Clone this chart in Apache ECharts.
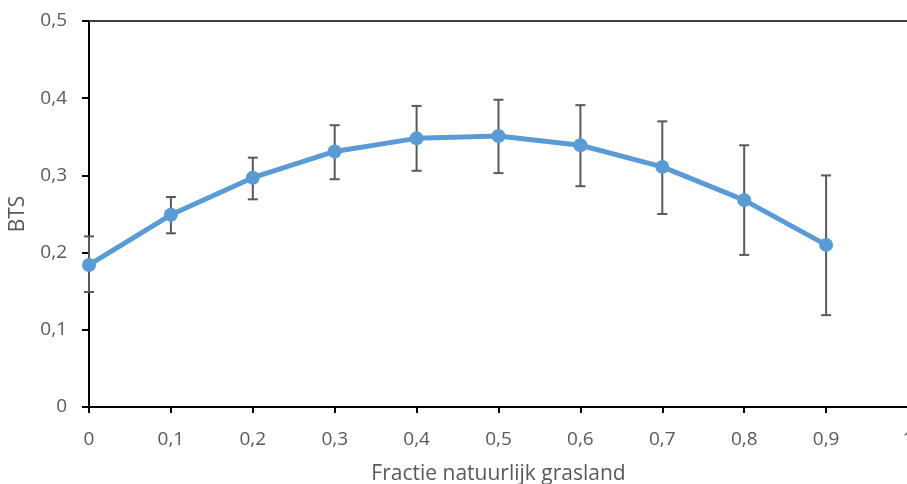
<!DOCTYPE html>
<html>
<head>
<meta charset="utf-8">
<script src="https://cdn.jsdelivr.net/npm/echarts@6/dist/echarts.min.js"></script>
<style>
    html, body { margin: 0; padding: 0; background: #fff; }
    #chart { width: 907px; height: 484px; }
</style>
</head>
<body>
<div id="chart"></div>
<script>
    // fractie natuurlijk grasland
    var fracties = [0, 0.1, 0.2, 0.3, 0.4, 0.5, 0.6, 0.7, 0.8, 0.9];
    // gemiddelde BTS
    var bts = [0.184, 0.249, 0.297, 0.331, 0.348, 0.351, 0.339, 0.311, 0.268, 0.210];
    // foutbalken onder / boven
    var btsLaag = [0.149, 0.225, 0.269, 0.295, 0.306, 0.303, 0.286, 0.250, 0.197, 0.119];
    var btsHoog = [0.221, 0.272, 0.323, 0.365, 0.390, 0.398, 0.391, 0.370, 0.339, 0.300];

    var lijnData = [];
    var foutData = [];
    for (var i = 0; i < fracties.length; i++) {
        lijnData.push([fracties[i], bts[i]]);
        foutData.push([fracties[i], btsLaag[i], btsHoog[i]]);
    }

    function komma(v) {
        return String(+v.toFixed(1)).replace('.', ',');
    }

    var myChart = echarts.init(document.getElementById('chart'));
    var labelFont = { color: '#595959', fontSize: 19, fontFamily: 'Open Sans' };
    var titelFont = { color: '#595959', fontSize: 21, fontFamily: 'Open Sans' };

    var options = {
        animation: false,
        grid: {
            left: 89,
            top: 21,
            width: 819,
            bottom: 77,
            outerBoundsMode: 'none'
        },
        xAxis: [{
            type: 'value',
            min: 0,
            max: 1,
            interval: 0.1,
            name: 'Fractie natuurlijk grasland',
            nameLocation: 'middle',
            nameGap: 57,
            nameTextStyle: titelFont,
            axisLine: { lineStyle: { color: '#000', width: 2 } },
            axisTick: { show: true, length: 6, lineStyle: { color: '#000', width: 2 } },
            axisLabel: Object.assign({ margin: 23, formatter: komma }, labelFont),
            splitLine: { show: false }
        }, {
            type: 'value',
            position: 'top',
            min: 0,
            max: 1,
            axisLine: { show: true, lineStyle: { color: '#404040', width: 2 } },
            axisTick: { show: false },
            axisLabel: { show: false },
            splitLine: { show: false }
        }],
        yAxis: {
            type: 'value',
            min: 0,
            max: 0.5,
            interval: 0.1,
            name: 'BTS',
            nameLocation: 'middle',
            nameGap: 60,
            nameTextStyle: titelFont,
            axisLine: { show: true, lineStyle: { color: '#000', width: 2 } },
            axisTick: { show: true, length: 7, lineStyle: { color: '#000', width: 2 } },
            axisLabel: Object.assign({ margin: 22, formatter: komma }, labelFont),
            splitLine: { show: false }
        },
        series: [
            {
                type: 'custom',
                z: 1,
                data: foutData,
                renderItem: function (params, api) {
                    var x = api.value(0);
                    var laag = api.coord([x, api.value(1)]);
                    var hoog = api.coord([x, api.value(2)]);
                    var w = 5;
                    var stijl = { stroke: '#595959', lineWidth: 2 };
                    return {
                        type: 'group',
                        children: [
                            { type: 'line', shape: { x1: hoog[0], y1: hoog[1], x2: laag[0], y2: laag[1] }, style: stijl },
                            { type: 'line', shape: { x1: hoog[0] - w, y1: hoog[1], x2: hoog[0] + w, y2: hoog[1] }, style: stijl },
                            { type: 'line', shape: { x1: laag[0] - w, y1: laag[1], x2: laag[0] + w, y2: laag[1] }, style: stijl }
                        ]
                    };
                }
            },
            {
                type: 'line',
                z: 2,
                data: lijnData,
                symbol: 'circle',
                symbolSize: 14,
                lineStyle: { color: '#5B9BD5', width: 5 },
                itemStyle: { color: '#5B9BD5' }
            }
        ]
    };
    myChart.setOption(options);
</script>
</body>
</html>
